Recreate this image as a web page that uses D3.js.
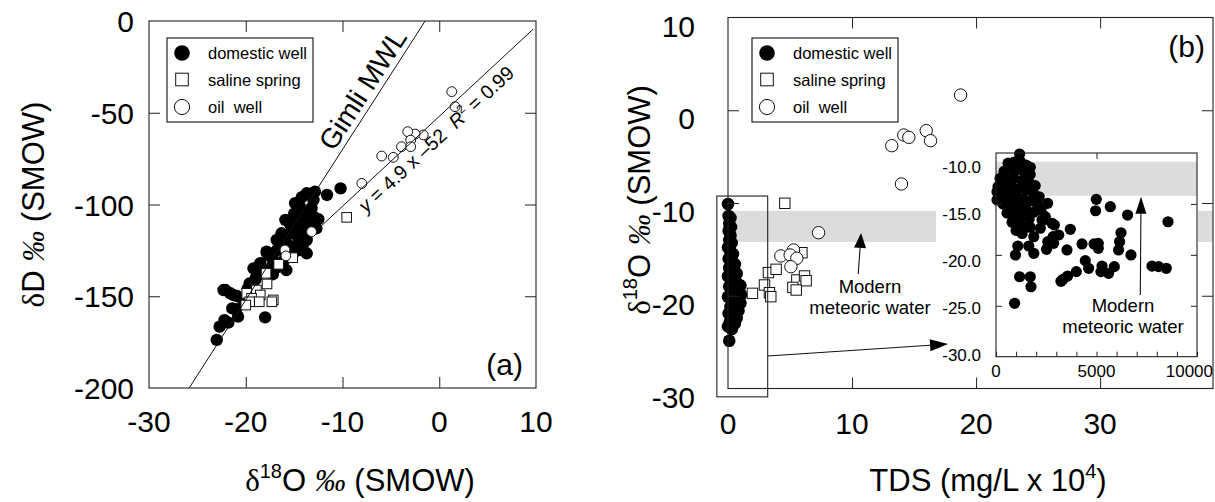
<!DOCTYPE html>
<html><head><meta charset="utf-8">
<script src="https://cdn.jsdelivr.net/npm/d3@7"></script>
<style>body{margin:0;background:#fff}svg{display:block}</style>
</head><body><svg id="c" width="1215" height="502"></svg>
<script>
// ---------------- DATA ----------------
const legendLabels = ["domestic well", "saline spring", "oil  well"];
const aXTickLabels = [-30, -20, -10, 0, 10];
const aYTickLabels = [0, -50, -100, -150, -200];
const bXTickLabels = [0, 10, 20, 30];
const bYTickLabels = [10, 0, -10, -20, -30];
const insetXTickLabels = [0, 5000, 10000];
const insetYTickLabels = [-10, -15, -20, -25, -30];
const insetMinorTicks = [0,1000,2000,3000,4000,5000,6000,7000,8000,9000,10000];

// panel (a): [d18O, dD]
const aDomestic = [
 [-23.0,-173.8],[-22.7,-166.6],[-21.8,-164.4],[-22.3,-146.6],[-21.6,-148.4],[-20.9,-149.9],
 [-21.4,-156.6],[-20.8,-161.1],[-18.0,-161.5],[-19.2,-134.8],[-19.6,-143],[-18.9,-139.3],
 [-17.8,-126.6],[-17.3,-133.9],[-16.8,-119.3],[-15.9,-108.4],[-15.8,-135.7],[-15.4,-115.7],
 [-14.9,-99.3],[-14.75,-104.8],[-14.4,-108.4],[-14.05,-113.9],[-13.7,-119.3],[-14.4,-124.8],
 [-15.1,-123],[-15.6,-128.4],[-13.7,-93.9],[-12.85,-93],[-13.0,-97.5],[-11.6,-94.8],[-10.2,-91.2],
 [-12.7,-113],[-13.0,-106.6],[-13.9,-104.8],[-14.4,-101.2],[-15.25,-112.1],[-16.3,-115.7],
 [-16.5,-123],[-17.15,-130.2],[-18.5,-132],[-13.7,-126.6],[-15.0,-105],[-14.2,-96],[-15.5,-110],
 [-16.0,-118],[-16.8,-125],[-17.5,-128],[-18.2,-136],[-19.0,-141],[-19.8,-146],[-20.3,-152],
 [-21.0,-157],[-22.2,-163],[-14.6,-118],[-13.5,-110],[-14.0,-121],[-15.0,-126],[-16.0,-130],
 [-16.6,-134],[-17.2,-138],[-13.2,-102],[-12.5,-108],[-14.8,-113],[-15.8,-121],[-22.1,-146.6],
 [-21.3,-149.3],[-19.4,-143],[-17.85,-125.7],[-16.1,-117.5],[-13.35,-103],[-12.9,-111]
];
const aSaline = [
 [-9.57,-107],[-15.15,-129],[-16.6,-132.6],[-17.9,-137.5],[-17.8,-143.3],[-18.9,-146.6],
 [-19.9,-148.4],[-18.5,-149.3],[-19.4,-151.1],[-17.15,-152],[-19.6,-153],[-20.0,-154.8],
 [-18.6,-153],[-17.3,-153]
];
const aOil = [
 [1.29,-38.5],[1.63,-46.7],[-1.65,-62.1],[-2.5,-61.6],[-3.26,-60.3],[-2.95,-64.9],
 [-3.9,-68.5],[-2.95,-68.5],[-4.75,-74.3],[-5.95,-73.6],[-8.0,-88.5],[-13.2,-114.8],
 [-15.95,-124.8],[-15.85,-128]
];
// fitted line and meteoric water line (end points, data units)
const gimliMWL = [[-25.85,-200],[-1.46,0]];
const regressionLine = [[-12.6,-113.7],[9.7,-4.47]];

// panel (b) main: [TDS (mg/L x 10^4), d18O]
const bDomestic = [
 [0.0,-10.1],[0.05,-11.4],[0.2,-11.6],[0.1,-12.2],[0.25,-12.6],[0.05,-13.0],[0.2,-13.5],
 [0.1,-14.0],[0.3,-14.3],[0.0,-14.8],[0.2,-15.2],[0.4,-15.5],[0.05,-16.0],[0.3,-16.2],
 [0.55,-16.6],[0.1,-17.0],[0.45,-17.3],[0.7,-17.6],[0.0,-17.9],[0.3,-18.1],[0.6,-18.4],
 [0.85,-18.8],[1.0,-18.9],[0.1,-19.0],[0.45,-19.3],[0.8,-19.6],[1.05,-19.9],[0.0,-20.1],
 [0.3,-20.3],[0.7,-20.6],[1.0,-20.8],[0.2,-21.2],[0.55,-21.4],[0.85,-21.6],[0.05,-21.9],
 [0.4,-22.1],[0.7,-22.4],[0.15,-22.8],[0.55,-23.0],[0.0,-23.3],[0.3,-23.6],[0.1,-24.85]
];
const bSaline = [
 [4.58,-10.03],[3.26,-17.5],[3.88,-17.15],[2.94,-18.84],[1.97,-19.74],[3.34,-19.67],
 [3.45,-20.1],[5.96,-15.36],[5.55,-18.3],[6.17,-17.87],[6.3,-18.38],[5.23,-19.1],[5.5,-19.38]
];
const bOil = [
 [18.75,1.64],[15.98,-2.2],[16.33,-3.28],[14.17,-2.67],[14.58,-2.92],[13.2,-3.82],
 [13.98,-7.95],[7.3,-13.2],[4.26,-15.71],[5.28,-15.07],[5.01,-15.6],[5.55,-15.96],[5.07,-16.87]
];
// inset: [TDS mg/L, d18O]
const insetDomestic = [
 [600,-11.0],[900,-10.9],[1200,-10.8],[1500,-11.2],[400,-11.8],[800,-11.7],[1100,-11.6],
 [1400,-11.9],[1700,-12.1],[200,-12.5],[500,-12.6],[900,-12.5],[1300,-12.7],[1650,-12.9],
 [1950,-13.2],[100,-13.3],[450,-13.4],[800,-13.4],[1150,-13.5],[1500,-13.6],[1850,-13.9],
 [2150,-14.3],[250,-14.2],[600,-14.3],[1000,-14.3],[1350,-14.5],[1700,-14.7],[2050,-15.0],
 [350,-15.0],[750,-15.2],[1150,-15.2],[1500,-15.5],[1900,-15.8],[550,-15.9],[950,-16.0],
 [1300,-16.2],[1650,-16.5],[800,-16.8],[1150,-17.0],[1450,-17.3],[1000,-17.6],[1300,-17.9],
 [50,-13.8],[50,-14.6],[1175,-10.1],[1706,-11.4],
 [2567,-14.94],[4990,-14.55],[4955,-15.67],[5687,-15.27],[6547,-16.09],[8557,-16.75],
 [6219,-17.83],[6149,-18.71],[6100,-19.52],[6716,-20.01],[5886,-21.16],[5274,-21.1],
 [5224,-21.65],[5602,-21.81],[7761,-21.1],[8090,-21.16],[8473,-21.32],[5089,-18.87],
 [5089,-19.36],[4876,-18.93],[4279,-18.93],[3532,-19.52],[3697,-17.49],[4443,-20.57],
 [4607,-21.32],[3995,-21.65],[3562,-22.08],[3333,-22.4],[3232,-22.6],[925,-24.76],
 [1175,-22.15],[1706,-22.15],[1741,-23.13],[970,-20.01],[1085,-19.13],[1632,-19.13],
 [1880,-19.85],[2512,-19.46],[2577,-18.71],[2840,-18.22],[3119,-18.05],[2904,-17.07],
 [2368,-16.58],[2204,-17.39],[1880,-18.22],[1706,-17.3],[2866,-18.87],[2786,-16.9],
 [2453,-16.25],[2239,-15.6],[2289,-16.58]
];
const meteoricBand = [-10.85, -14.2];   // d18O range of modern meteoric water
const zoomBox = [[-0.9, -9.25], [3.2, -30.9]]; // region of main plot shown in inset

// ---------------- DRAW ----------------
const SANS = '"Liberation Sans", Arial, Helvetica, sans-serif';
const SERIF = '"Liberation Serif", "Times New Roman", serif';
const svg = d3.select("#c").attr("font-family", SANS);

const ax = d3.scaleLinear([-30, 10], [149, 536]);
const ay = d3.scaleLinear([-200, 0], [388, 21]);
const bx = d3.scaleLinear([0, 39.1], [728, 1213]);
const by = d3.scaleLinear([-30, 10], [388.5, 17.5]);
const ix = d3.scaleLinear([0, 10000], [996, 1197]);
const iy = d3.scaleLinear([-30, -10], [356.7, 153]);
const iyLabel = d3.scaleLinear([-30, -10], [355, 166.7]); // label placement as drawn

function dots(g, data, sx, sy, r) {
  g.append("g").selectAll("circle").data(data).join("circle")
   .attr("cx", d => sx(d[0])).attr("cy", d => sy(d[1])).attr("r", r).attr("fill", "#000");
}
function squares(g, data, sx, sy, s) {
  g.append("g").selectAll("rect").data(data).join("rect")
   .attr("x", d => sx(d[0]) - s/2).attr("y", d => sy(d[1]) - s/2)
   .attr("width", s).attr("height", s).attr("fill", "#fff").attr("stroke", "#111").attr("stroke-width", 1);
}
function rings(g, data, sx, sy, r) {
  g.append("g").selectAll("circle").data(data).join("circle")
   .attr("cx", d => sx(d[0])).attr("cy", d => sy(d[1])).attr("r", r)
   .attr("fill", "#fff").attr("stroke", "#111").attr("stroke-width", 1);
}
function arrow(g, x1, y1, x2, y2, hl, hw) {
  const dx = x2 - x1, dy = y2 - y1, L = Math.hypot(dx, dy), ux = dx / L, uy = dy / L;
  const bxp = x2 - ux * hl, byp = y2 - uy * hl;
  g.append("line").attr("x1", x1).attr("y1", y1).attr("x2", bxp).attr("y2", byp)
   .attr("stroke", "#111").attr("stroke-width", 1.1);
  g.append("polygon").attr("points",
    [[x2, y2], [bxp - uy * hw / 2, byp + ux * hw / 2], [bxp + uy * hw / 2, byp - ux * hw / 2]].map(p => p.join(",")).join(" "))
   .attr("fill", "#000");
}
function frameTicks(g, sx, sy, xt, yt, len) {
  const [x0, x1] = sx.range(), [y0, y1] = sy.range();
  g.append("g").attr("transform", `translate(0,${y0})`).call(d3.axisBottom(sx).tickValues(xt).tickSize(-len).tickFormat(""));
  g.append("g").attr("transform", `translate(0,${y1})`).call(d3.axisTop(sx).tickValues(xt).tickSize(-len).tickFormat(""));
  g.append("g").attr("transform", `translate(${x0},0)`).call(d3.axisLeft(sy).tickValues(yt).tickSize(-len).tickFormat(""));
  g.append("g").attr("transform", `translate(${x1},0)`).call(d3.axisRight(sy).tickValues(yt).tickSize(-len).tickFormat(""));
  g.selectAll(".domain").remove();
  g.selectAll(".tick line").attr("stroke", "#222");
  g.append("rect").attr("x", x0).attr("y", y1).attr("width", x1 - x0).attr("height", y0 - y1)
   .attr("fill", "none").attr("stroke", "#222").attr("stroke-width", 1.1);
}
function legend(g, x0, y0) {
  g.append("rect").attr("x", x0).attr("y", y0).attr("width", 146).attr("height", 84)
   .attr("fill", "#fff").attr("stroke", "#111").attr("stroke-width", 1.1);
  const mx = x0 + 15, rows = [15, 41.5, 69];
  g.append("circle").attr("cx", mx).attr("cy", y0 + rows[0]).attr("r", 7.8).attr("fill", "#000");
  g.append("rect").attr("x", mx - 6.3).attr("y", y0 + rows[1] - 6.3).attr("width", 12.6).attr("height", 12.6)
   .attr("fill", "#fff").attr("stroke", "#111");
  g.append("circle").attr("cx", mx).attr("cy", y0 + rows[2]).attr("r", 7.6).attr("fill", "#fff").attr("stroke", "#111");
  legendLabels.forEach((t, i) => g.append("text").attr("x", x0 + 41).attr("y", y0 + rows[i] + 6)
    .attr("font-size", 16.5).style("white-space", "pre").text(t));
}
function richText(g, parts, attrs) {
  const t = g.append("text");
  Object.entries(attrs).forEach(([k, v]) => t.attr(k, v));
  parts.forEach(p => {
    const s = t.append("tspan").text(p.t);
    if (p.f) s.attr("font-family", p.f);
    if (p.i) s.attr("font-style", "italic");
    if (p.s) s.attr("font-size", p.s);
    if (p.dy) s.attr("dy", p.dy);
  });
  return t.style("white-space", "pre");
}

// ---- panel (a)
const ga = svg.append("g");
dots(ga, aDomestic, ax, ay, 6.2);
squares(ga, aSaline, ax, ay, 9.6);
rings(ga, aOil, ax, ay, 4.9);
const lineA = d3.line().x(d => ax(d[0])).y(d => ay(d[1]));
ga.append("path").attr("d", lineA(gimliMWL)).attr("stroke", "#111").attr("fill", "none").attr("stroke-width", 1);
ga.append("path").attr("d", lineA(regressionLine)).attr("stroke", "#111").attr("fill", "none").attr("stroke-width", 1);
const angG = Math.atan2(ay(gimliMWL[0][1]) - ay(gimliMWL[1][1]), ax(gimliMWL[1][0]) - ax(gimliMWL[0][0])) * 180 / Math.PI;
const angR = Math.atan2(ay(regressionLine[0][1]) - ay(regressionLine[1][1]), ax(regressionLine[1][0]) - ax(regressionLine[0][0])) * 180 / Math.PI;
ga.append("text").attr("transform", `translate(${ax(-10.9)},${ay(-71.5)}) rotate(${-angG})`)
  .attr("font-size", 28).text("Gimli MWL");
richText(ga, [{t: "y", i: 1}, {t: " = 4.9 x \u201352  "}, {t: "R", i: 1}, {t: "2", s: 12, dy: -8}, {t: " = 0.99", dy: 8}],
  {transform: `translate(${ax(-7.57)},${ay(-89.1) + 29}) rotate(${-angR})`, "font-size": 19.5});
frameTicks(ga, ax, ay, [-20, -10, 0], [-50, -100, -150], 11);
legend(ga, 167, 38);
ga.append("text").attr("x", 523).attr("y", 375).attr("text-anchor", "end").attr("font-size", 30).text("(a)");
ga.append("g").selectAll("text").data(aXTickLabels).join("text")
  .attr("x", d => ax(d)).attr("y", 432).attr("text-anchor", "middle").attr("font-size", 30).text(d => d);
ga.append("g").selectAll("text").data(aYTickLabels).join("text")
  .attr("x", 134).attr("y", d => ay(d) + 11).attr("text-anchor", "end").attr("font-size", 30).text(d => d);
richText(ga, [{t: "\u03b4", f: SERIF}, {t: "18", s: 20, dy: -13}, {t: "O ", dy: 13}, {t: "\u2030", f: SERIF, i: 1}, {t: " (SMOW)"}],
  {x: 360, y: 491, "text-anchor": "middle", "font-size": 31});
richText(ga, [{t: "\u03b4", f: SERIF}, {t: "D "}, {t: "\u2030", f: SERIF, i: 1}, {t: " (SMOW)"}],
  {transform: `translate(44,${(ay.range()[0] + ay.range()[1]) / 2}) rotate(-90)`, "text-anchor": "middle", "font-size": 31});

// ---- panel (b)
const gb = svg.append("g");
gb.append("rect").attr("x", bx(0)).attr("width", bx.range()[1] - bx(0))
  .attr("y", by(meteoricBand[0])).attr("height", by(meteoricBand[1]) - by(meteoricBand[0])).attr("fill", "#dcdcdc");
dots(gb, bDomestic, bx, by, 6.3);
squares(gb, bSaline, bx, by, 10.4);
rings(gb, bOil, bx, by, 6.2);
gb.append("rect").attr("x", bx(zoomBox[0][0])).attr("y", by(zoomBox[0][1]))
  .attr("width", bx(zoomBox[1][0]) - bx(zoomBox[0][0])).attr("height", by(zoomBox[1][1]) - by(zoomBox[0][1]))
  .attr("fill", "none").attr("stroke", "#222").attr("stroke-width", 1.1);
arrow(gb, bx(10.5), by(-17.65), bx(10.73), by(-13.23), 15, 12);
gb.append("text").attr("x", 870).attr("y", 293).attr("text-anchor", "middle").attr("font-size", 18.5).text("Modern");
gb.append("text").attr("x", 870).attr("y", 314).attr("text-anchor", "middle").attr("font-size", 18.5).text("meteoric water");

// inset
const gi = gb.append("g");
gi.append("rect").attr("x", 936).attr("y", 147).attr("width", 262).attr("height", 238).attr("fill", "#fff");
gi.append("rect").attr("x", ix(0)).attr("width", ix(10000) - ix(0))
  .attr("y", iy(meteoricBand[0])).attr("height", iy(meteoricBand[1]) - iy(meteoricBand[0])).attr("fill", "#dcdcdc");
dots(gi, insetDomestic, ix, iy, 5.6);
gi.append("g").attr("transform", `translate(0,${iy(-30)})`).call(d3.axisBottom(ix).tickValues(insetMinorTicks).tickSize(-5).tickFormat(""));
gi.append("g").attr("transform", `translate(0,${iy(-10)})`).call(d3.axisTop(ix).tickValues([5000]).tickSize(-6).tickFormat(""));
gi.append("g").attr("transform", `translate(${ix(0)},0)`).call(d3.axisLeft(iy).tickValues([-15, -20, -25]).tickSize(-6).tickFormat(""));
gi.append("g").attr("transform", `translate(${ix(10000)},0)`).call(d3.axisRight(iy).tickValues([-15, -20, -25]).tickSize(-6).tickFormat(""));
gi.selectAll(".domain").remove();
gi.append("rect").attr("x", ix(0)).attr("y", iy(-10)).attr("width", ix(10000) - ix(0)).attr("height", iy(-30) - iy(-10))
  .attr("fill", "none").attr("stroke", "#222").attr("stroke-width", 1.1);
gi.append("g").selectAll("text").data(insetYTickLabels).join("text")
  .attr("x", 981).attr("y", d => iyLabel(d) + 6).attr("text-anchor", "end").attr("font-size", 17).text(d => d.toFixed(1));
gi.append("g").selectAll("text").data(insetXTickLabels).join("text")
  .attr("x", (d, i) => i === 2 ? 1213 : ix(d)).attr("y", 377)
  .attr("text-anchor", (d, i) => i === 2 ? "end" : "middle").attr("font-size", 17).text(d => d);
arrow(gi, ix(7179), iy(-23.95), ix(7215), iy(-14.3), 17, 11);
gi.append("text").attr("x", 1123).attr("y", 312).attr("text-anchor", "middle").attr("font-size", 18.5).text("Modern");
gi.append("text").attr("x", 1123).attr("y", 333).attr("text-anchor", "middle").attr("font-size", 18.5).text("meteoric water");

arrow(gb, bx(zoomBox[1][0]), by(-26.5), bx(17.74), by(-25.2), 18, 12);
frameTicks(gb, bx, by, [10, 20, 30], [0, -10, -20], 11);
legend(gb, 752, 38);
gb.append("text").attr("x", 1205).attr("y", 57).attr("text-anchor", "end").attr("font-size", 30).text("(b)");
gb.append("g").selectAll("text").data(bXTickLabels).join("text")
  .attr("x", d => bx(d)).attr("y", 434).attr("text-anchor", "middle").attr("font-size", 30).text(d => d);
gb.append("g").selectAll("text").data(bYTickLabels).join("text")
  .attr("x", 695).attr("y", d => by(d) + 19).attr("text-anchor", "end").attr("font-size", 30).text(d => d);
richText(gb, [{t: "TDS (mg/L x 10"}, {t: "4", s: 20, dy: -13}, {t: ")", dy: 13}],
  {x: 988, y: 491, "text-anchor": "middle", "font-size": 31});
richText(gb, [{t: "\u03b4", f: SERIF}, {t: "18", s: 20, dy: -13}, {t: "O ", dy: 13}, {t: "\u2030", f: SERIF, i: 1}, {t: " (SMOW)"}],
  {transform: `translate(650,200) rotate(-90)`, "text-anchor": "middle", "font-size": 31});
</script></body></html>
